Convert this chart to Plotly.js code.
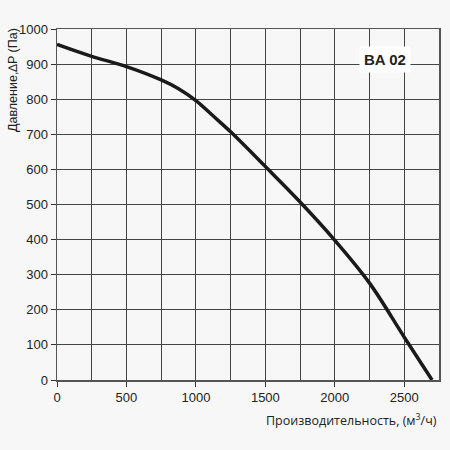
<!DOCTYPE html>
<html><head><meta charset="utf-8">
<script src="https://cdn.plot.ly/plotly-3.0.1.min.js"></script>
<style>body{margin:0;background:#f7f7f7}</style>
</head><body><div id="c" style="width:450px;height:450px"></div>
<script>
const flow = [0, 250, 500, 750, 875, 1000, 1125, 1250, 1500, 1750, 2000, 2250, 2500, 2700];
const pressure = [956, 922, 893, 855, 830, 796, 752, 707, 608, 507, 398, 276, 122, 0];
const xTicks = [0, 500, 1000, 1500, 2000, 2500];
const yTicks = [0, 100, 200, 300, 400, 500, 600, 700, 800, 900, 1000];
const label = "BA 02";
const xTitle = "Производительность, (м<sup>3</sup>/ч)";
const yTitle = "Давление,∆P (Па)";

Plotly.newPlot('c', [{
  x: flow, y: pressure, mode: 'lines', line: {color: '#1a1a1a', width: 3.5, shape: 'spline', smoothing: 1},
  hoverinfo: 'skip'
}], {
  width: 450, height: 450,
  margin: {l: 57, r: 11, t: 29, b: 70},
  paper_bgcolor: '#f7f7f7', plot_bgcolor: '#f7f7f7',
  font: {family: 'Liberation Sans, Arial, sans-serif', color: '#222', size: 13},
  showlegend: false,
  xaxis: {range: [0, 2750], tickvals: xTicks, ticks: 'outside', ticklen: 5, tickcolor: '#333',
    showgrid: false, zeroline: false, showline: true, linecolor: '#555', mirror: true, linewidth: 1.5,
    minor: {dtick: 250, tick0: 0, showgrid: true, gridcolor: '#444', gridwidth: 1}, fixedrange: true},
  yaxis: {range: [0, 1000], tickvals: yTicks, ticks: 'outside', ticklen: 5, tickcolor: '#333',
    showgrid: true, gridcolor: '#444', gridwidth: 1, zeroline: false, showline: true, linecolor: '#555', mirror: true, linewidth: 1.5, fixedrange: true},
  annotations: [
    {text: '<b>' + label + '</b>', x: 2360, y: 912, xref: 'x', yref: 'y', showarrow: false,
      font: {size: 15, color: '#222'}, bgcolor: '#ffffff', borderpad: 4},
    {text: xTitle, xref: 'paper', yref: 'paper', x: 1.0, y: -0.115, xanchor: 'right', yanchor: 'middle',
      showarrow: false, font: {family: 'Open Sans, sans-serif', size: 12.5, color: '#222'}},
    {text: yTitle, xref: 'paper', yref: 'paper', x: -0.115, y: 0.855, xanchor: 'center', yanchor: 'middle',
      textangle: -90, showarrow: false, font: {size: 12.5, color: '#222'}}
  ]
}, {displayModeBar: false, staticPlot: true});
</script></body></html>
